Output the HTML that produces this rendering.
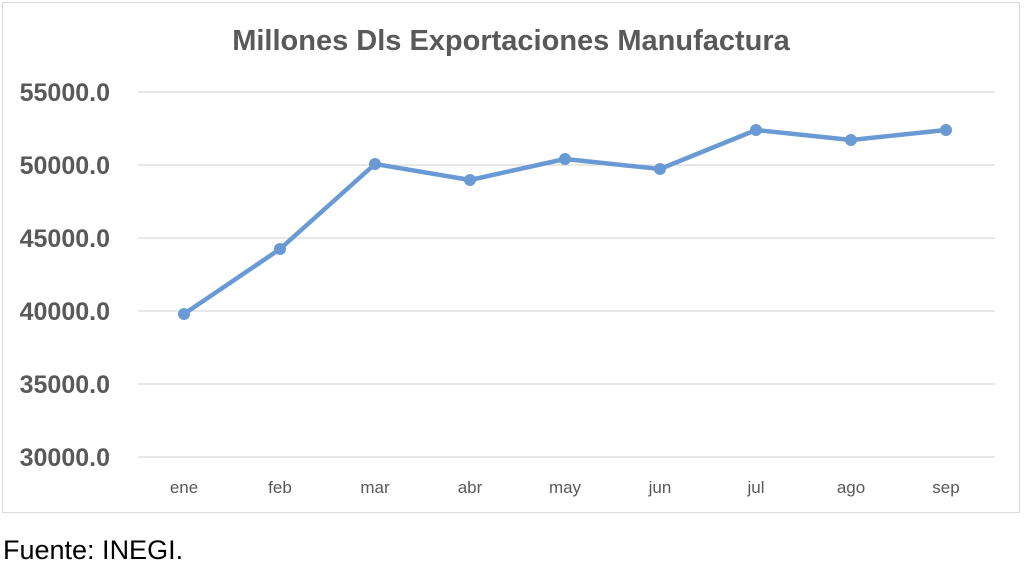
<!DOCTYPE html>
<html><head><meta charset="utf-8"><style>
body{margin:0;background:#fff;width:1024px;height:571px;overflow:hidden}
</style></head><body>
<svg width="1024" height="571" xmlns="http://www.w3.org/2000/svg" font-family="Liberation Sans, sans-serif">
<rect x="2.5" y="2.5" width="1017" height="510" fill="#fff" stroke="#d9d9d9"/>
<text x="511" y="50" text-anchor="middle" font-size="29" font-weight="bold" fill="#595959">Millones Dls Exportaciones Manufactura</text>
<g stroke="#d9d9d9" stroke-width="1.3">
<line x1="138" x2="995" y1="92" y2="92"/><line x1="138" x2="995" y1="165" y2="165"/>
<line x1="138" x2="995" y1="238" y2="238"/><line x1="138" x2="995" y1="311" y2="311"/>
<line x1="138" x2="995" y1="384" y2="384"/><line x1="138" x2="995" y1="457" y2="457"/>
</g>
<g font-size="25" font-weight="bold" fill="#595959" text-anchor="end">
<text x="110" y="101">55000.0</text><text x="110" y="174">50000.0</text>
<text x="110" y="247">45000.0</text><text x="110" y="320">40000.0</text>
<text x="110" y="393">35000.0</text><text x="110" y="466">30000.0</text>
</g>
<g font-size="17" fill="#595959" text-anchor="middle">
<text x="184" y="493">ene</text><text x="280" y="493">feb</text><text x="375" y="493">mar</text>
<text x="470" y="493">abr</text><text x="565" y="493">may</text><text x="660" y="493">jun</text>
<text x="756" y="493">jul</text><text x="851" y="493">ago</text><text x="946" y="493">sep</text>
</g>
<polyline fill="none" stroke="#6a9ad3" stroke-width="4.5" stroke-linejoin="round" points="184,314 280,249 375,164 470,180 565,159 660,169 756,130 851,140 946,130"/>
<g fill="#6a9ad3">
<circle cx="184" cy="314" r="6"/><circle cx="280" cy="249" r="6"/><circle cx="375" cy="164" r="6"/>
<circle cx="470" cy="180" r="6"/><circle cx="565" cy="159" r="6"/><circle cx="660" cy="169" r="6"/>
<circle cx="756" cy="130" r="6"/><circle cx="851" cy="140" r="6"/><circle cx="946" cy="130" r="6"/>
</g>
<text x="3" y="559" font-size="27" fill="#000">Fuente: INEGI.</text>
</svg>
</body></html>
